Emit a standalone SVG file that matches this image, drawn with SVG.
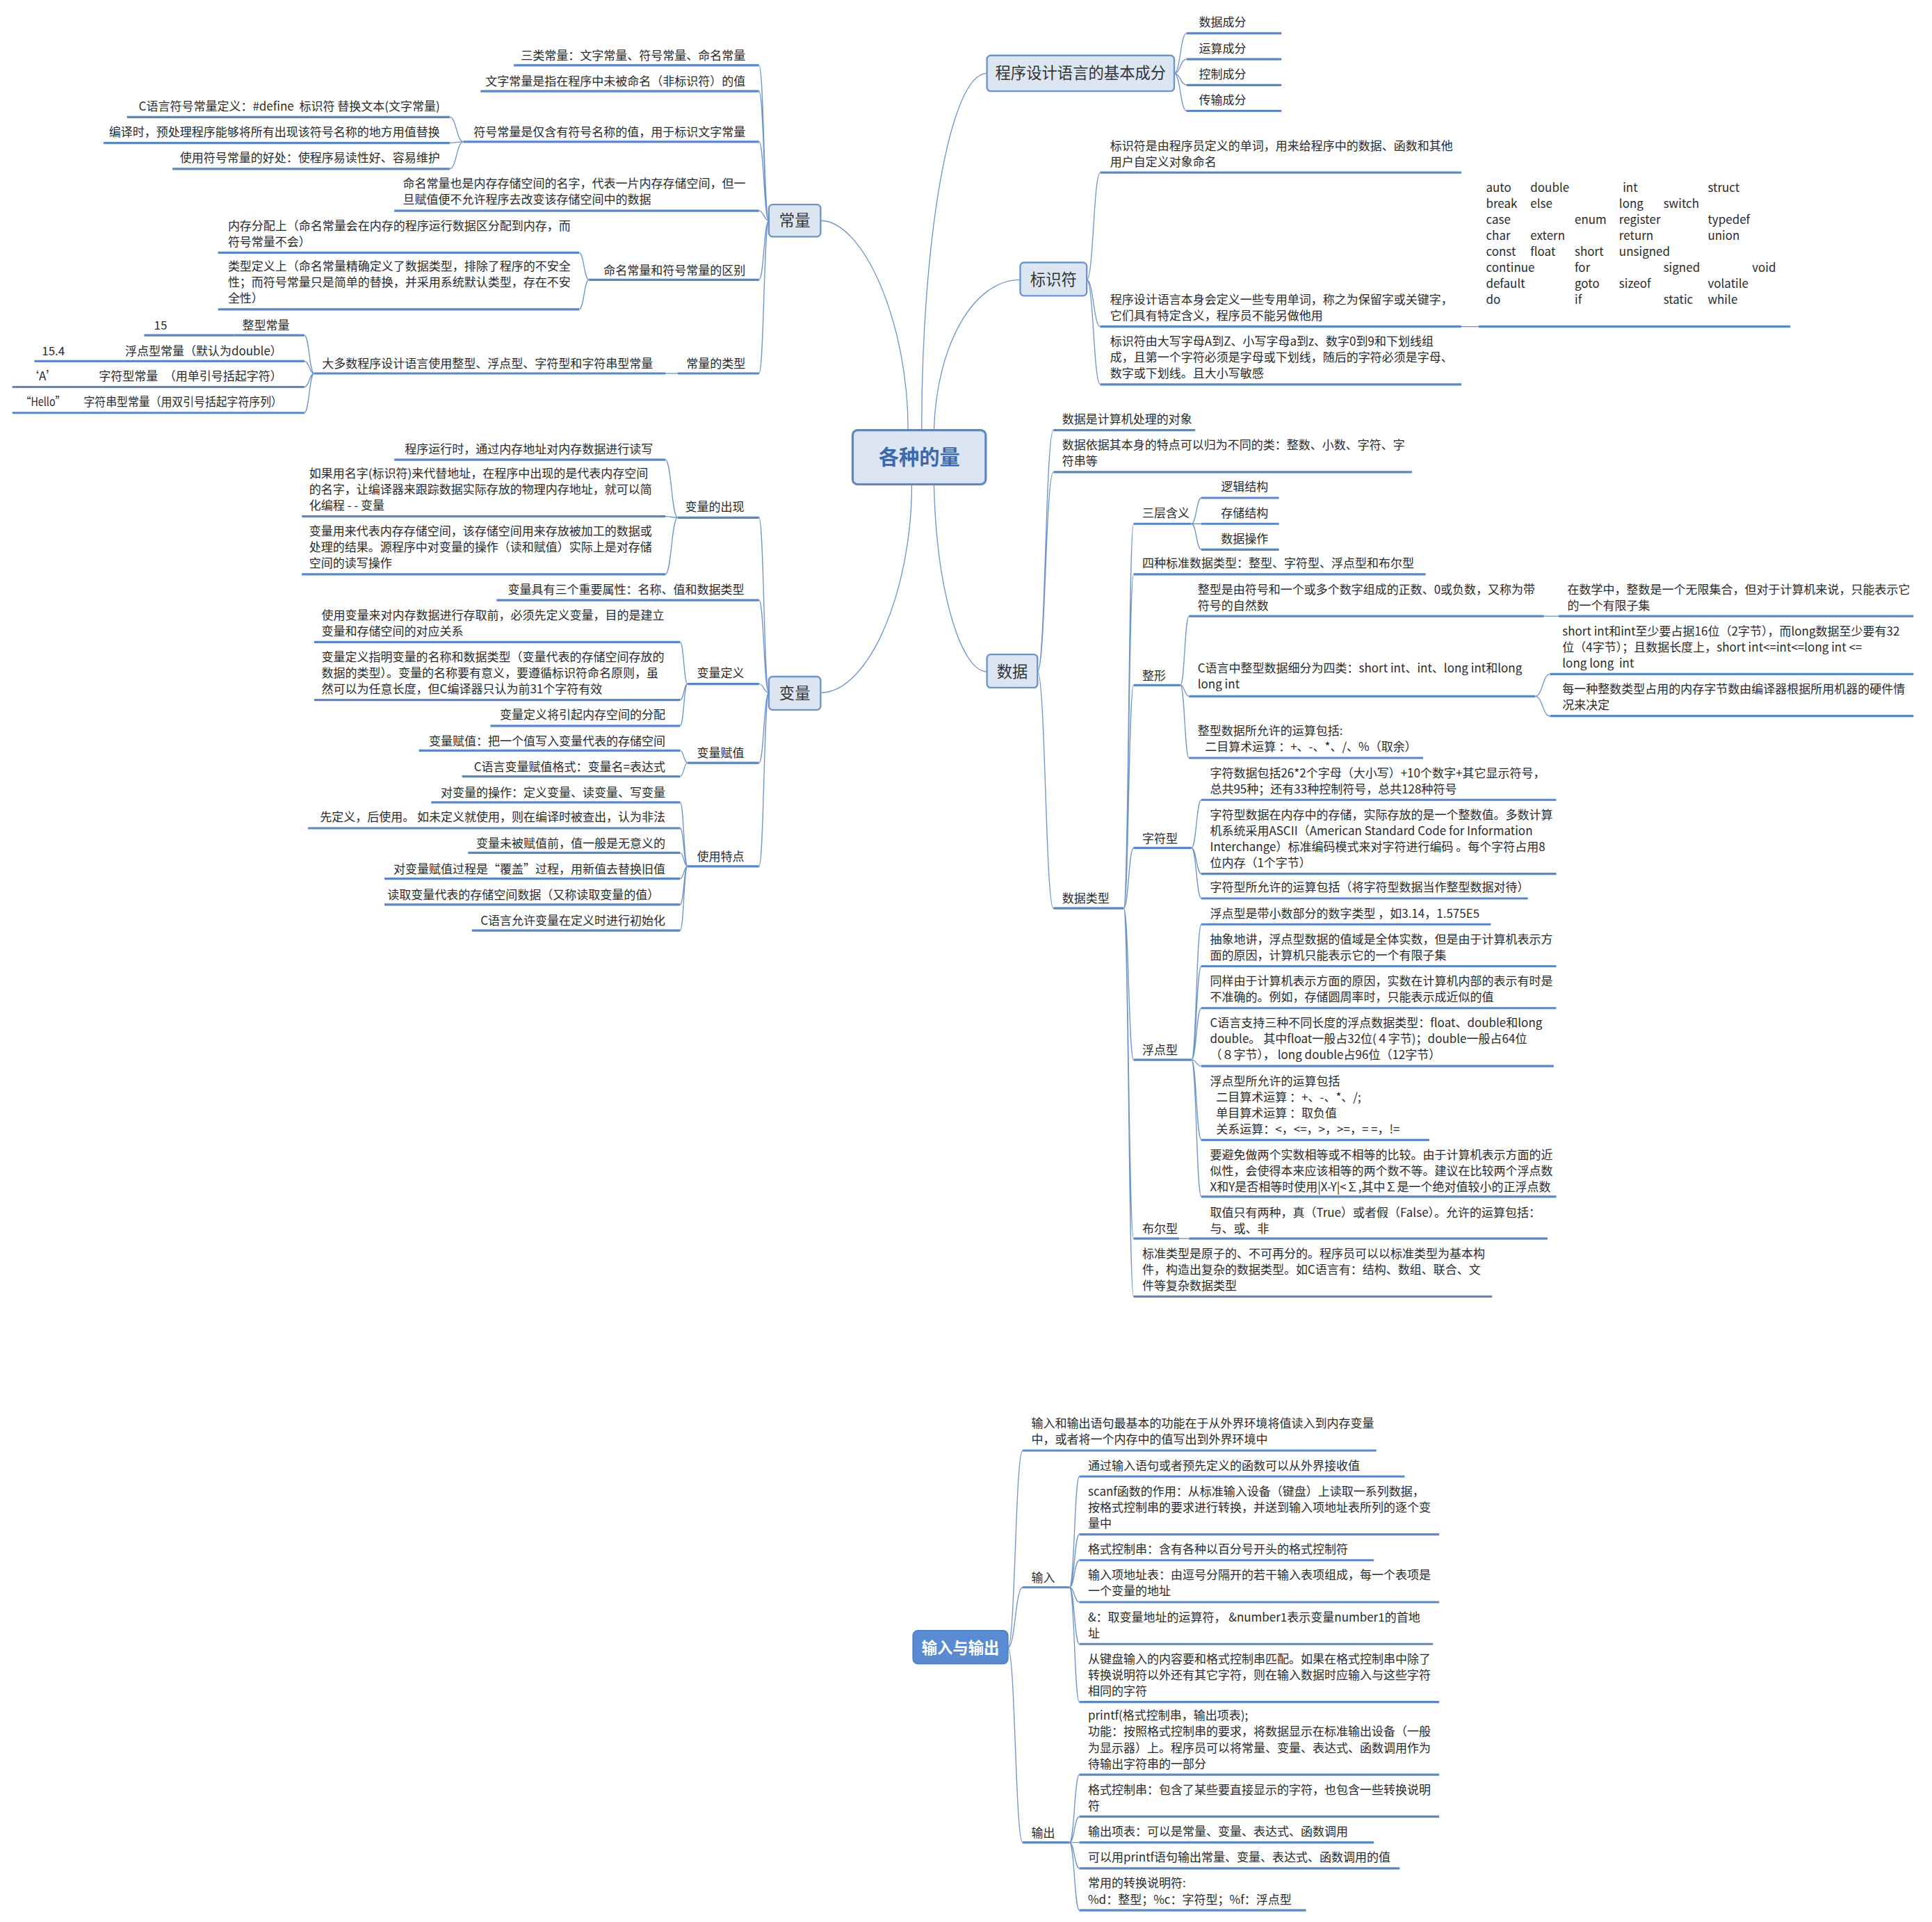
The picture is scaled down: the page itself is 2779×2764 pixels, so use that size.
<svg xmlns="http://www.w3.org/2000/svg" width="2779" height="2764" viewBox="0 0 2779 2764">
<style>
.t{font-family:"Noto Sans CJK SC","Noto Sans",sans-serif;font-size:9.6px;fill:#2a2a2a}
.e{text-anchor:end}
.m{font-family:"Noto Sans CJK SC","Noto Sans",sans-serif;font-size:12.6px;fill:#333;text-anchor:middle}
.u{stroke:#5b87c5;stroke-width:1.8;fill:none}
.c{stroke:#6f95cc;stroke-width:0.75;fill:none}
.b{fill:#dce6f3;stroke:#6b93cd;stroke-width:1.3}
</style>
<rect x="0" y="0" width="2779" height="2764" fill="#ffffff"/>
<g transform="scale(1.77232)">
<g id="connectors">
<path class="c" d="M737 349C737 260 700 179 666 179"/>
<path class="c" d="M740 393C740 480 705 562 666 562"/>
<path class="c" d="M748 349C748 200 770 59.5 801 59.5"/>
<path class="c" d="M758 349C760 280 790 227 828 227"/>
<path class="c" d="M758 393C760 480 780 545 801 545"/>
<path class="c" d="M624 179C620 179 620 53 616 53M624 179C620 179 620 74 616 74M624 179C620 179 620 115 616 115M624 179C620 179 620 171 616 171M624 179C620 179 620 227 616 227M624 179C620 179 620 303 616 303"/>
<path class="c" d="M376 115C370.5 115 370.5 95 365 95M376 115C370.5 115 370.5 116 365 116M376 115C370.5 115 370.5 137 365 137"/>
<path class="c" d="M478 227C474 227 474 205 470 205M478 227C474 227 474 251 470 251"/>
<path class="c" d="M550 303H540"/>
<path class="c" d="M255 303C251 303 251 272 247 272M255 303C251 303 251 293 247 293M255 303C251 303 251 314 247 314M255 303C251 303 251 335 247 335"/>
<path class="c" d="M624 562C620 562 620 420 616 420M624 562C620 562 620 487 616 487M624 562C620 562 620 555 616 555M624 562C620 562 620 619 616 619M624 562C620 562 620 703 616 703"/>
<path class="c" d="M550 420C545 420 545 373 540 373M550 420C545 420 545 419 540 419M550 420C545 420 545 466 540 466"/>
<path class="c" d="M558 555C555 555 555 521 552 521M558 555C555 555 555 568 552 568M558 555C555 555 555 589 552 589"/>
<path class="c" d="M558 619C555 619 555 609 552 609M558 619C555 619 555 630 552 630"/>
<path class="c" d="M558 703C555 703 555 651 552 651M558 703C555 703 555 672 552 672M558 703C555 703 555 692 552 692M558 703C555 703 555 713 552 713M558 703C555 703 555 734 552 734M558 703C555 703 555 755 552 755"/>
<path class="c" d="M953 59.5C958 59.5 958 27 963 27M953 59.5C958 59.5 958 48 963 48M953 59.5C958 59.5 958 69 963 69M953 59.5C958 59.5 958 90 963 90"/>
<path class="c" d="M882 227C887.5 227 887.5 140 893 140M882 227C887.5 227 887.5 265 893 265M882 227C887.5 227 887.5 312 893 312"/>
<path class="c" d="M1186 265H1200"/>
<path class="c" d="M842 545C848.5 545 848.5 349 855 349M842 545C848.5 545 848.5 383 855 383M842 545C848.5 545 848.5 737 855 737"/>
<path class="c" d="M912 737C916 737 916 425 920 425M912 737C916 737 916 466 920 466M912 737C916 737 916 556 920 556M912 737C916 737 916 688 920 688M912 737C916 737 916 860 920 860M912 737C916 737 916 1005 920 1005M912 737C916 737 916 1052 920 1052"/>
<path class="c" d="M967 425C971 425 971 404 975 404M967 425C971 425 971 425 975 425M967 425C971 425 971 446 975 446"/>
<path class="c" d="M958 556C961.5 556 961.5 500 965 500M958 556C961.5 556 961.5 565 965 565M958 556C961.5 556 961.5 615 965 615"/>
<path class="c" d="M1253 500H1265"/>
<path class="c" d="M1246 565C1252 565 1252 547 1258 547M1246 565C1252 565 1252 581 1258 581"/>
<path class="c" d="M967 688C971 688 971 649 975 649M967 688C971 688 971 709 975 709M967 688C971 688 971 729 975 729"/>
<path class="c" d="M967 860C971 860 971 750 975 750M967 860C971 860 971 784 975 784M967 860C971 860 971 818 975 818M967 860C971 860 971 865 975 865M967 860C971 860 971 925 975 925M967 860C971 860 971 971 975 971"/>
<path class="c" d="M957 1005H965"/>
<path class="c" d="M818 1337C824 1337 824 1177 830 1177M818 1337C824 1337 824 1288 830 1288M818 1337C824 1337 824 1495 830 1495"/>
<path class="c" d="M868 1288C872 1288 872 1198 876 1198M868 1288C872 1288 872 1245 876 1245M868 1288C872 1288 872 1266 876 1266M868 1288C872 1288 872 1300 876 1300M868 1288C872 1288 872 1334 876 1334M868 1288C872 1288 872 1381 876 1381"/>
<path class="c" d="M868 1495C872 1495 872 1440 876 1440M868 1495C872 1495 872 1474 876 1474M868 1495C872 1495 872 1495 876 1495M868 1495C872 1495 872 1516 876 1516M868 1495C872 1495 872 1550 876 1550"/>
</g>

<g id="root"><rect x="692" y="349" width="108" height="44" rx="4" fill="#dbe5f3" stroke="#5b87c7" stroke-width="1.8"/><text x="746" y="377" text-anchor="middle" font-family="Noto Sans CJK SC, sans-serif" font-size="16.5" font-weight="bold" fill="#3b69ab">各种的量</text></g>
<g id="n-changliang"><rect class="b" x="624" y="166" width="42" height="26" rx="3"/><text class="m" x="645" y="183.5">常量</text></g>
<g id="n-bianliang"><rect class="b" x="624" y="549" width="42" height="27" rx="3"/><text class="m" x="645" y="567">变量</text></g>
<g id="n-chengxu"><rect class="b" x="801" y="45" width="152" height="29" rx="3"/><text class="m" x="877" y="64">程序设计语言的基本成分</text></g>
<g id="n-biaoshifu"><rect class="b" x="828" y="213" width="54" height="27" rx="3"/><text class="m" x="855" y="231.5">标识符</text></g>
<g id="n-shuju"><rect class="b" x="801" y="531" width="41" height="27" rx="3"/><text class="m" x="821.5" y="549.5">数据</text></g>
<g id="n-io"><rect x="741" y="1323" width="77" height="27" rx="4" fill="#5a8bd2" stroke="#4f80c6" stroke-width="1"/><text class="m" x="779.5" y="1341.5" font-weight="bold" style="fill:#ffffff">输入与输出</text></g>

<!-- 常量 subtree -->
<g id="c1"><text class="t e" x="605" y="48.6">三类常量：文字常量、符号常量、命名常量</text><path class="u" d="M417 53H616"/></g>
<g id="c2"><text class="t e" x="605" y="69.6">文字常量是指在程序中未被命名（非标识符）的值</text><path class="u" d="M390 74H616"/></g>
<g id="c3"><text class="t e" x="605" y="110.6">符号常量是仅含有符号名称的值，用于标识文字常量</text><path class="u" d="M376 115H616"/></g>
<g id="c3a"><text class="t e" x="357" y="89.6">C语言符号常量定义：#define&#160; 标识符 替换文本(文字常量)</text><path class="u" d="M103 95H365"/></g>
<g id="c3b"><text class="t e" x="357" y="110.6">编译时，预处理程序能够将所有出现该符号名称的地方用值替换</text><path class="u" d="M84 116H365"/></g>
<g id="c3c"><text class="t e" x="357" y="131.6">使用符号常量的好处：使程序易读性好、容易维护</text><path class="u" d="M140 137H365"/></g>
<g id="c4"><text class="t" x="327" y="152.6">命名常量也是内存存储空间的名字，代表一片内存存储空间，但一</text><text class="t" x="327" y="165.6">旦赋值便不允许程序去改变该存储空间中的数据</text><path class="u" d="M320 171H616"/></g>
<g id="c5"><text class="t e" x="605" y="222.6">命名常量和符号常量的区别</text><path class="u" d="M478 227H616"/></g>
<g id="c5a"><text class="t" x="185" y="186.6">内存分配上（命名常量会在内存的程序运行数据区分配到内存，而</text><text class="t" x="185" y="199.6">符号常量不会）</text><path class="u" d="M177 205H470"/></g>
<g id="c5b"><text class="t" x="185" y="219.6">类型定义上（命名常量精确定义了数据类型，排除了程序的不安全</text><text class="t" x="185" y="232.6">性；而符号常量只是简单的替换，并采用系统默认类型，存在不安</text><text class="t" x="185" y="245.6">全性）</text><path class="u" d="M177 251H470"/></g>
<g id="c6"><text class="t e" x="605" y="298.6">常量的类型</text><path class="u" d="M550 303H616"/></g>
<g id="c6a"><text class="t e" x="530" y="298.6">大多数程序设计语言使用整型、浮点型、字符型和字符串型常量</text><path class="u" d="M255 303H540"/></g>
<g id="k1"><text class="t e" x="235" y="267.6">整型常量</text><path class="u" d="M190 272H247"/></g>
<g id="k1a"><text class="t" x="125" y="267.6">15</text><path class="u" d="M117 272H190"/></g>
<g id="k2"><text class="t e" x="229" y="288.6">浮点型常量（默认为double）</text><path class="u" d="M100 293H247"/></g>
<g id="k2a"><text class="t" x="34" y="288.6">15.4</text><path class="u" d="M28 293H100"/></g>
<g id="k3"><text class="t e" x="229" y="308.6">字符型常量　（用单引号括起字符）</text><path class="u" d="M84 314H247"/></g>
<g id="k3a"><text class="t" x="22" y="308.6">‘A’</text><path class="u" d="M10 314H84"/></g>
<g id="k4"><text class="t" x="68" y="329.6" textLength="161" lengthAdjust="spacingAndGlyphs">字符串型常量（用双引号括起字符序列）</text><path class="u" d="M62 335H247"/></g>
<g id="k4a"><text class="t" x="17" y="329.6" textLength="36" lengthAdjust="spacingAndGlyphs">“Hello”</text><path class="u" d="M10 335H62"/></g>

<!-- 变量 subtree -->
<g id="v1"><text class="t e" x="604" y="414.6">变量的出现</text><path class="u" d="M550 420H616"/></g>
<g id="v1a"><text class="t e" x="530" y="367.6">程序运行时，通过内存地址对内存数据进行读写</text><path class="u" d="M320 373H540"/></g>
<g id="v1b"><text class="t" x="251" y="387.6">如果用名字(标识符)来代替地址，在程序中出现的是代表内存空间</text><text class="t" x="251" y="400.6">的名字，让编译器来跟踪数据实际存放的物理内存地址，就可以简</text><text class="t" x="251" y="413.6">化编程 - - 变量</text><path class="u" d="M245 419H540"/></g>
<g id="v1c"><text class="t" x="251" y="434.6">变量用来代表内存存储空间，该存储空间用来存放被加工的数据或</text><text class="t" x="251" y="447.6">处理的结果。源程序中对变量的操作（读和赋值）实际上是对存储</text><text class="t" x="251" y="460.6">空间的读写操作</text><path class="u" d="M245 466H540"/></g>
<g id="v2"><text class="t e" x="604" y="481.6">变量具有三个重要属性：名称、值和数据类型</text><path class="u" d="M403 487H616"/></g>
<g id="v3"><text class="t e" x="604" y="549.6">变量定义</text><path class="u" d="M558 555H616"/></g>
<g id="v3a"><text class="t" x="261" y="502.6">使用变量来对内存数据进行存取前，必须先定义变量，目的是建立</text><text class="t" x="261" y="515.6">变量和存储空间的对应关系</text><path class="u" d="M255 521H552"/></g>
<g id="v3b"><text class="t" x="261" y="536.6">变量定义指明变量的名称和数据类型（变量代表的存储空间存放的</text><text class="t" x="261" y="549.6">数据的类型）。变量的名称要有意义，要遵循标识符命名原则，虽</text><text class="t" x="261" y="562.6">然可以为任意长度，但C编译器只认为前31个字符有效</text><path class="u" d="M255 568H552"/></g>
<g id="v3c"><text class="t e" x="540" y="583.6">变量定义将引起内存空间的分配</text><path class="u" d="M398 589H552"/></g>
<g id="v4"><text class="t e" x="604" y="614.6">变量赋值</text><path class="u" d="M558 619H616"/></g>
<g id="v4a"><text class="t e" x="540" y="604.6">变量赋值：把一个值写入变量代表的存储空间</text><path class="u" d="M340 609H552"/></g>
<g id="v4b"><text class="t e" x="540" y="625.6">C语言变量赋值格式：变量名=表达式</text><path class="u" d="M375 630H552"/></g>
<g id="v5"><text class="t e" x="604" y="698.6">使用特点</text><path class="u" d="M558 703H616"/></g>
<g id="v5a"><text class="t e" x="540" y="646.6">对变量的操作：定义变量、读变量、写变量</text><path class="u" d="M350 651H552"/></g>
<g id="v5b"><text class="t e" x="540" y="666.6">先定义，后使用。 如未定义就使用，则在编译时被查出，认为非法</text><path class="u" d="M250 672H552"/></g>
<g id="v5c"><text class="t e" x="540" y="687.6">变量未被赋值前，值一般是无意义的</text><path class="u" d="M380 692H552"/></g>
<g id="v5d"><text class="t e" x="540" y="708.6">对变量赋值过程是“覆盖”过程，用新值去替换旧值</text><path class="u" d="M312 713H552"/></g>
<g id="v5e"><text class="t e" x="535" y="729.6">读取变量代表的存储空间数据（又称读取变量的值）</text><path class="u" d="M312 734H552"/></g>
<g id="v5f"><text class="t e" x="540" y="750.6">C语言允许变量在定义时进行初始化</text><path class="u" d="M383 755H552"/></g>

<!-- 程序设计语言 subtree -->
<g id="p1"><text class="t" x="973" y="21.6">数据成分</text><path class="u" d="M963 27H1040"/></g>
<g id="p2"><text class="t" x="973" y="42.6">运算成分</text><path class="u" d="M963 48H1040"/></g>
<g id="p3"><text class="t" x="973" y="63.6">控制成分</text><path class="u" d="M963 69H1040"/></g>
<g id="p4"><text class="t" x="973" y="84.6">传输成分</text><path class="u" d="M963 90H1040"/></g>

<!-- 标识符 subtree -->
<g id="s1"><text class="t" x="901" y="121.6">标识符是由程序员定义的单词，用来给程序中的数据、函数和其他</text><text class="t" x="901" y="134.6">用户自定义对象命名</text><path class="u" d="M893 140H1186"/></g>
<g id="s2"><text class="t" x="901" y="246.6">程序设计语言本身会定义一些专用单词，称之为保留字或关键字，</text><text class="t" x="901" y="259.6">它们具有特定含义，程序员不能另做他用</text><path class="u" d="M893 265H1186"/></g>
<g id="s2a">
<text class="t" y="155.6"><tspan x="1206">auto</tspan><tspan x="1242">double</tspan><tspan x="1317">int</tspan><tspan x="1386">struct</tspan></text>
<text class="t" y="168.6"><tspan x="1206">break</tspan><tspan x="1242">else</tspan><tspan x="1314">long</tspan><tspan x="1350">switch</tspan></text>
<text class="t" y="181.6"><tspan x="1206">case</tspan><tspan x="1278">enum</tspan><tspan x="1314">register</tspan><tspan x="1386">typedef</tspan></text>
<text class="t" y="194.6"><tspan x="1206">char</tspan><tspan x="1242">extern</tspan><tspan x="1314">return</tspan><tspan x="1386">union</tspan></text>
<text class="t" y="207.6"><tspan x="1206">const</tspan><tspan x="1242">float</tspan><tspan x="1278">short</tspan><tspan x="1314">unsigned</tspan></text>
<text class="t" y="220.6"><tspan x="1206">continue</tspan><tspan x="1278">for</tspan><tspan x="1350">signed</tspan><tspan x="1422">void</tspan></text>
<text class="t" y="233.6"><tspan x="1206">default</tspan><tspan x="1278">goto</tspan><tspan x="1314">sizeof</tspan><tspan x="1386">volatile</tspan></text>
<text class="t" y="246.6"><tspan x="1206">do</tspan><tspan x="1278">if</tspan><tspan x="1350">static</tspan><tspan x="1386">while</tspan></text>
<path class="u" d="M1200 265H1453"/></g>
<g id="s3"><text class="t" x="901" y="280.6">标识符由大写字母A到Z、小写字母a到z、数字0到9和下划线组</text><text class="t" x="901" y="293.6">成，且第一个字符必须是字母或下划线，随后的字符必须是字母、</text><text class="t" x="901" y="306.6">数字或下划线。且大小写敏感</text><path class="u" d="M893 312H1186"/></g>

<!-- 数据 subtree -->
<g id="d1"><text class="t" x="862" y="343.6">数据是计算机处理的对象</text><path class="u" d="M855 349H970"/></g>
<g id="d2"><text class="t" x="862" y="364.6">数据依据其本身的特点可以归为不同的类：整数、小数、字符、字</text><text class="t" x="862" y="377.6">符串等</text><path class="u" d="M855 383H1146"/></g>
<g id="d3"><text class="t" x="862" y="732.6">数据类型</text><path class="u" d="M855 737H912"/></g>
<g id="t1"><text class="t" x="927" y="419.6">三层含义</text><path class="u" d="M920 425H967"/></g>
<g id="t1a"><text class="t" x="991" y="398.6">逻辑结构</text><path class="u" d="M975 404H1038"/></g>
<g id="t1b"><text class="t" x="991" y="419.6">存储结构</text><path class="u" d="M975 425H1038"/></g>
<g id="t1c"><text class="t" x="991" y="440.6">数据操作</text><path class="u" d="M975 446H1038"/></g>
<g id="t2"><text class="t" x="927" y="460.6">四种标准数据类型：整型、字符型、浮点型和布尔型</text><path class="u" d="M920 466H1157"/></g>
<g id="t3"><text class="t" x="927" y="551.6">整形</text><path class="u" d="M920 556H958"/></g>
<g id="i1"><text class="t" x="972" y="481.6">整型是由符号和一个或多个数字组成的正数、0或负数，又称为带</text><text class="t" x="972" y="494.6">符号的自然数</text><path class="u" d="M965 500H1253"/></g>
<g id="i1a"><text class="t" x="1272" y="481.6">在数学中，整数是一个无限集合，但对于计算机来说，只能表示它</text><text class="t" x="1272" y="494.6">的一个有限子集</text><path class="u" d="M1265 500H1553"/></g>
<g id="i2"><text class="t" x="972" y="545.6">C语言中整型数据细分为四类：short int、int、long int和long</text><text class="t" x="972" y="558.6">long int</text><path class="u" d="M965 565H1246"/></g>
<g id="i2a"><text class="t" x="1268" y="515.6">short int和int至少要占据16位（2字节），而long数据至少要有32</text><text class="t" x="1268" y="528.6">位（4字节）；且数据长度上，short int&lt;=int&lt;=long int &lt;=</text><text class="t" x="1268" y="541.6">long long&#160; int</text><path class="u" d="M1258 547H1553"/></g>
<g id="i2b"><text class="t" x="1268" y="562.6">每一种整数类型占用的内存字节数由编译器根据所用机器的硬件情</text><text class="t" x="1268" y="575.6">况来决定</text><path class="u" d="M1258 581H1553"/></g>
<g id="i3"><text class="t" x="972" y="596.6">整型数据所允许的运算包括:</text><text class="t" x="978" y="609.6">二目算术运算 ：+、-、*、/、%（取余）</text><path class="u" d="M965 615H1155"/></g>
<g id="t4"><text class="t" x="927" y="683.6">字符型</text><path class="u" d="M920 688H967"/></g>
<g id="ch1"><text class="t" x="982" y="630.6">字符数据包括26*2个字母（大小写）+10个数字+其它显示符号，</text><text class="t" x="982" y="643.6">总共95种；还有33种控制符号，总共128种符号</text><path class="u" d="M975 649H1263"/></g>
<g id="ch2"><text class="t" x="982" y="664.6">字符型数据在内存中的存储，实际存放的是一个整数值。多数计算</text><text class="t" x="982" y="677.6">机系统采用ASCII（American Standard Code for Information</text><text class="t" x="982" y="690.6">Interchange）标准编码模式来对字符进行编码 。每个字符占用8</text><text class="t" x="982" y="703.6">位内存（1个字节）</text><path class="u" d="M975 709H1263"/></g>
<g id="ch3"><text class="t" x="982" y="723.6">字符型所允许的运算包括（将字符型数据当作整型数据对待）</text><path class="u" d="M975 729H1240"/></g>
<g id="t5"><text class="t" x="927" y="855.6">浮点型</text><path class="u" d="M920 860H967"/></g>
<g id="f1"><text class="t" x="982" y="744.6">浮点型是带小数部分的数字类型 ，如3.14，1.575E5</text><path class="u" d="M975 750H1210"/></g>
<g id="f2"><text class="t" x="982" y="765.6">抽象地讲，浮点型数据的值域是全体实数，但是由于计算机表示方</text><text class="t" x="982" y="778.6">面的原因，计算机只能表示它的一个有限子集</text><path class="u" d="M975 784H1263"/></g>
<g id="f3"><text class="t" x="982" y="799.6">同样由于计算机表示方面的原因，实数在计算机内部的表示有时是</text><text class="t" x="982" y="812.6">不准确的。例如，存储圆周率时，只能表示成近似的值</text><path class="u" d="M975 818H1263"/></g>
<g id="f4"><text class="t" x="982" y="833.6">C语言支持三种不同长度的浮点数据类型：float、double和long</text><text class="t" x="982" y="846.6">double。 其中float一般占32位(４字节)；double一般占64位</text><text class="t" x="982" y="859.6">（８字节）， long double占96位（12字节）</text><path class="u" d="M975 865H1261"/></g>
<g id="f5"><text class="t" x="982" y="880.6">浮点型所允许的运算包括</text><text class="t" x="987" y="893.6">二目算术运算 ：+、-、*、/;</text><text class="t" x="987" y="906.6">单目算术运算 ：取负值</text><text class="t" x="987" y="919.6">关系运算：&lt;，&lt;=，&gt;，&gt;=，= =，!=</text><path class="u" d="M975 925H1160"/></g>
<g id="f6"><text class="t" x="982" y="940.6">要避免做两个实数相等或不相等的比较。由于计算机表示方面的近</text><text class="t" x="982" y="953.6">似性，会使得本来应该相等的两个数不等。建议在比较两个浮点数</text><text class="t" x="982" y="966.6">X和Y是否相等时使用|X-Y|&lt;∑,其中∑是一个绝对值较小的正浮点数</text><path class="u" d="M975 971H1263"/></g>
<g id="t6"><text class="t" x="927" y="1000.6">布尔型</text><path class="u" d="M920 1005H957"/></g>
<g id="b1"><text class="t" x="982" y="987.6">取值只有两种，真（True）或者假（False）。允许的运算包括：</text><text class="t" x="982" y="1000.6">与、或、非</text><path class="u" d="M965 1005H1256"/></g>
<g id="t7"><text class="t" x="927" y="1020.6">标准类型是原子的、不可再分的。程序员可以以标准类型为基本构</text><text class="t" x="927" y="1033.6">件，构造出复杂的数据类型。如C语言有：结构、数组、联合、文</text><text class="t" x="927" y="1046.6">件等复杂数据类型</text><path class="u" d="M920 1052H1211"/></g>

<!-- 输入与输出 subtree -->
<g id="io1"><text class="t" x="837" y="1158.6">输入和输出语句最基本的功能在于从外界环境将值读入到内存变量</text><text class="t" x="837" y="1171.6">中，或者将一个内存中的值写出到外界环境中</text><path class="u" d="M830 1177H1117"/></g>
<g id="io2"><text class="t" x="837" y="1283.6">输入</text><path class="u" d="M830 1288H868"/></g>
<g id="in1"><text class="t" x="883" y="1192.6">通过输入语句或者预先定义的函数可以从外界接收值</text><path class="u" d="M876 1198H1140"/></g>
<g id="in2"><text class="t" x="883" y="1213.6">scanf函数的作用：从标准输入设备（键盘）上读取一系列数据，</text><text class="t" x="883" y="1226.6">按格式控制串的要求进行转换，并送到输入项地址表所列的逐个变</text><text class="t" x="883" y="1239.6">量中</text><path class="u" d="M876 1245H1168"/></g>
<g id="in3"><text class="t" x="883" y="1260.6">格式控制串：含有各种以百分号开头的格式控制符</text><path class="u" d="M876 1266H1115"/></g>
<g id="in4"><text class="t" x="883" y="1281.6">输入项地址表：由逗号分隔开的若干输入表项组成，每一个表项是</text><text class="t" x="883" y="1294.6">一个变量的地址</text><path class="u" d="M876 1300H1168"/></g>
<g id="in5"><text class="t" x="883" y="1315.6">&amp;：取变量地址的运算符， &amp;number1表示变量number1的首地</text><text class="t" x="883" y="1328.6">址</text><path class="u" d="M876 1334H1163"/></g>
<g id="in6"><text class="t" x="883" y="1349.6">从键盘输入的内容要和格式控制串匹配。如果在格式控制串中除了</text><text class="t" x="883" y="1362.6">转换说明符以外还有其它字符，则在输入数据时应输入与这些字符</text><text class="t" x="883" y="1375.6">相同的字符</text><path class="u" d="M876 1381H1168"/></g>
<g id="io3"><text class="t" x="837" y="1490.6">输出</text><path class="u" d="M830 1495H868"/></g>
<g id="out1"><text class="t" x="883" y="1395.6">printf(格式控制串，输出项表);</text><text class="t" x="883" y="1408.6">功能：按照格式控制串的要求，将数据显示在标准输出设备（一般</text><text class="t" x="883" y="1421.6">为显示器）上。程序员可以将常量、变量、表达式、函数调用作为</text><text class="t" x="883" y="1434.6">待输出字符串的一部分</text><path class="u" d="M876 1440H1168"/></g>
<g id="out2"><text class="t" x="883" y="1455.6">格式控制串：包含了某些要直接显示的字符，也包含一些转换说明</text><text class="t" x="883" y="1468.6">符</text><path class="u" d="M876 1474H1168"/></g>
<g id="out3"><text class="t" x="883" y="1489.6">输出项表：可以是常量、变量、表达式、函数调用</text><path class="u" d="M876 1495H1115"/></g>
<g id="out4"><text class="t" x="883" y="1510.6">可以用printf语句输出常量、变量、表达式、函数调用的值</text><path class="u" d="M876 1516H1136"/></g>
<g id="out5"><text class="t" x="883" y="1531.6">常用的转换说明符:</text><text class="t" x="883" y="1544.6">%d：整型；%c：字符型；%f：浮点型</text><path class="u" d="M876 1550H1060"/></g>
</g>
</svg>
